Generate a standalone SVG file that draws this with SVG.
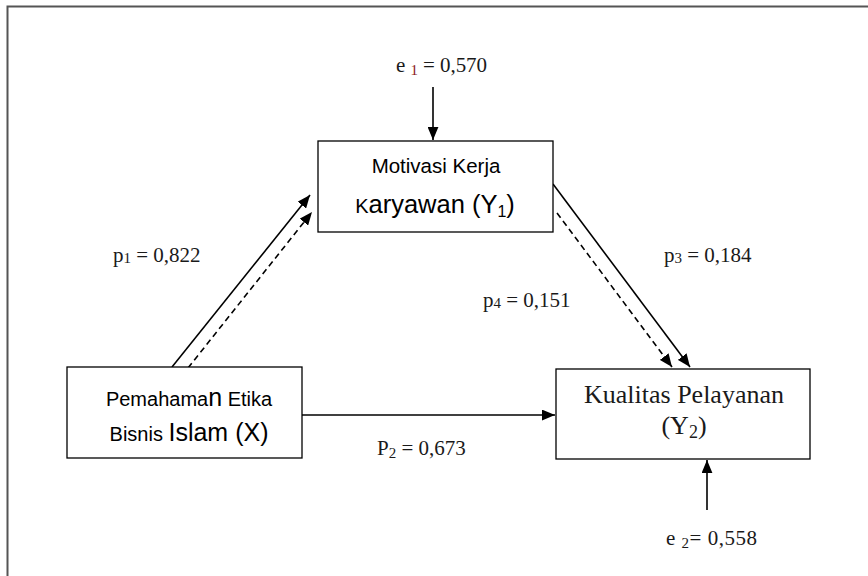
<svg xmlns="http://www.w3.org/2000/svg" width="868" height="576" viewBox="0 0 868 576">
<defs>
<marker id="ah" viewBox="0 0 12 10" refX="12" refY="5" markerWidth="13" markerHeight="11" markerUnits="userSpaceOnUse" orient="auto">
<path d="M0,0 L12,5 L0,10 Z" fill="#000"/>
</marker>
</defs>
<style>
.box{fill:#fff;stroke:#000;stroke-width:1.3}
.ar{font-family:"Liberation Sans",Arial,sans-serif;fill:#000}
.tm{font-family:"Liberation Serif","Times New Roman",serif;fill:#1a1a1a}
.ln{stroke:#000;stroke-width:1.6;fill:none;marker-end:url(#ah)}
.ds{stroke-dasharray:6,4}
</style>
<rect width="868" height="576" fill="#fff"/>
<path d="M7.5,576 V6.5 H868" fill="none" stroke="#555" stroke-width="2"/>

<g id="connectors">
<line class="ln" x1="433" y1="87" x2="433" y2="140"/>
<line class="ln" x1="707" y1="510" x2="707" y2="460"/>
<line class="ln" x1="302" y1="415" x2="555" y2="415"/>
<line class="ln" x1="172" y1="367" x2="310" y2="195"/>
<line class="ln ds" x1="188" y1="368" x2="312" y2="212"/>
<line class="ln" x1="553" y1="184" x2="690" y2="367"/>
<line class="ln ds" x1="557" y1="213" x2="672" y2="367"/>
</g>

<g id="Y1">
<rect class="box" x="318" y="141" width="235" height="91"/>
<text class="ar" x="436" y="173" font-size="20.5" text-anchor="middle">Motivasi Kerja</text>
<text class="ar" x="435" y="213" font-size="25.5" text-anchor="middle"><tspan font-size="20">K</tspan>aryawan (Y<tspan font-size="16" dy="4">1</tspan><tspan dy="-4">)</tspan></text>
</g>

<g id="X">
<rect class="box" x="67" y="367" width="235" height="91"/>
<text class="ar" x="189" y="406" font-size="20" text-anchor="middle">Pemahama<tspan font-size="25">n</tspan> Etika</text>
<text class="ar" x="189" y="441" text-anchor="middle"><tspan font-size="20">Bisnis </tspan><tspan font-size="25">Islam (X)</tspan></text>
</g>

<g id="Y2">
<rect class="box" x="556" y="369" width="254" height="90"/>
<text class="tm" x="684" y="403" font-size="26" text-anchor="middle">Kualitas Pelayanan</text>
<text class="tm" x="684" y="434" font-size="26" text-anchor="middle">(Y<tspan font-size="18" dy="4">2</tspan><tspan dy="-4">)</tspan></text>
</g>

<g id="labels">
<text class="tm" x="396" y="72" font-size="21" textLength="91">e <tspan fill="#8b1a1a" font-size="15" dy="3">1</tspan><tspan dy="-3"> = 0,570</tspan></text>
<text class="tm" x="666" y="545" font-size="21" textLength="91">e <tspan font-size="15" dy="3">2</tspan><tspan dy="-3">= 0,558</tspan></text>
<text class="tm" x="113" y="262" font-size="21">p<tspan font-size="15" dy="1">1</tspan><tspan dy="-1"> = 0,822</tspan></text>
<text class="tm" x="664" y="262" font-size="21">p<tspan font-size="15" dy="1">3</tspan><tspan dy="-1"> = 0,184</tspan></text>
<text class="tm" x="483" y="307" font-size="21">p<tspan font-size="15" dy="1">4</tspan><tspan dy="-1"> = 0,151</tspan></text>
<text class="tm" x="377" y="455" font-size="21">P<tspan font-size="15" dy="3">2</tspan><tspan dy="-3"> = 0,673</tspan></text>
</g>
</svg>
